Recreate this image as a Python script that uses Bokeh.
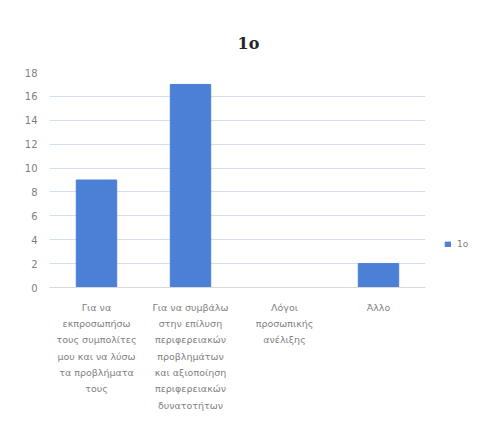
from bokeh.plotting import figure
from bokeh.layouts import row
from bokeh.models import (Legend, LegendItem, ColumnDataSource, Range1d, FixedTicker,
                          FactorRange)
from bokeh.embed import file_html
from bokeh.resources import INLINE

categories = [
    "Για να\nεκπροσωπήσω\nτους συμπολίτες\nμου και να λύσω\nτα προβλήματα\nτους",
    "Για να συμβάλω\nστην επίλυση\nπεριφερειακών\nπροβλημάτων\nκαι αξιοποίηση\nπεριφερειακών\nδυνατοτήτων",
    "Λόγοι\nπροσωπικής\nανέλιξης",
    "Άλλο",
]
values = [9, 17, 0, 2]
series_name = "1ο"
y_ticks = [0, 2, 4, 6, 8, 10, 12, 14, 16, 18]
bar_color = "#4c7fd6"

src = ColumnDataSource(dict(cat=categories, val=values))

p = figure(
    x_range=categories,
    y_range=Range1d(0, 18),
    width=428, height=415,
    output_backend="svg", toolbar_location=None,
    title=series_name,
    min_border_left=49, min_border_right=3, min_border_top=72, min_border_bottom=128,
)
p.outline_line_color = None
p.background_fill_color = "white"
p.border_fill_color = "white"

p.title.align = "left"
p.title.offset = 188
p.title.text_font = "DejaVu Serif"
p.title.text_font_size = "16px"
p.title.text_font_style = "bold"
p.title.text_color = "#262626"
p.title.standoff = 40

r = p.vbar(x="cat", top="val", width=0.43, source=src, color=bar_color)

p.x_range.range_padding = 0.0
p.xaxis.axis_line_color = "#d9d9d9"
p.xaxis.major_tick_line_color = None
p.xaxis.minor_tick_line_color = None
p.xaxis.major_label_text_font = "DejaVu Sans"
p.xaxis.major_label_text_font_size = "9.5px"
p.xaxis.major_label_text_color = "#7f7f7f"
p.xaxis.major_label_text_line_height = 1.49
p.xaxis.major_label_standoff = 8

p.yaxis.ticker = FixedTicker(ticks=y_ticks)
p.yaxis.axis_line_color = None
p.yaxis.major_tick_line_color = None
p.yaxis.minor_tick_line_color = None
p.yaxis.major_label_text_font = "DejaVu Sans"
p.yaxis.major_label_text_font_size = "10px"
p.yaxis.major_label_text_color = "#7f7f7f"
p.yaxis.major_label_standoff = 6

p.xgrid.grid_line_color = None
p.ygrid.grid_line_color = "#d5def0"

# side figure holding the legend; its x range has none of the categories,
# so its renderer draws no bars but still provides the legend swatch
lg = figure(x_range=FactorRange(factors=[series_name]), y_range=Range1d(0, 18),
            width=58, height=415, output_backend="svg", toolbar_location=None,
            min_border=0, x_axis_type=None, y_axis_type=None)
lg.outline_line_color = None
lg.grid.visible = False
lr = lg.vbar(x="cat", top="val", width=0.43, source=src, color=bar_color)
legend = Legend(items=[LegendItem(label=series_name, renderers=[lr])],
                location=(16, 38), border_line_color=None,
                background_fill_alpha=0,
                label_text_font="DejaVu Sans", label_text_font_size="9px",
                label_text_color="#7f7f7f",
                glyph_width=7, glyph_height=6, label_standoff=6, padding=4, margin=0)
lg.add_layout(legend)

layout = row(p, lg)
open("out.html", "w").write(file_html(layout, INLINE))
